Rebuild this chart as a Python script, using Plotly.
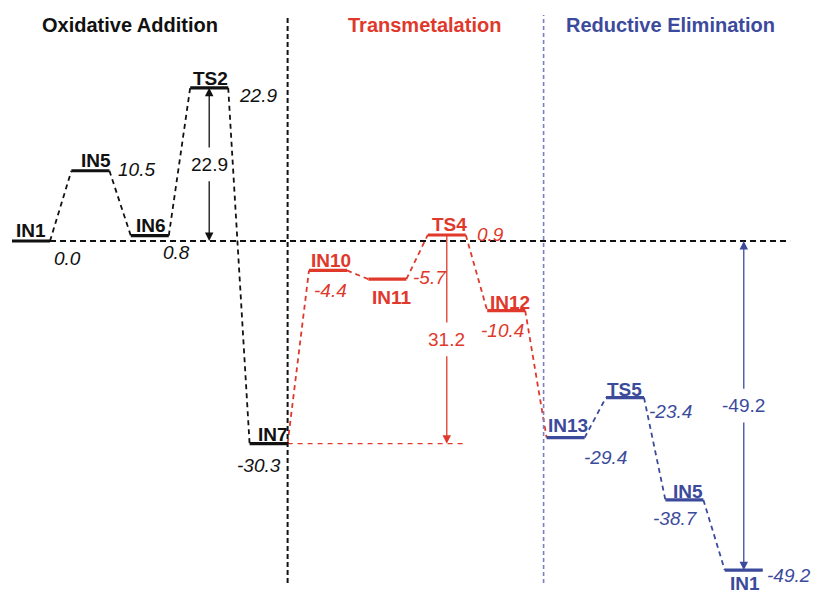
import plotly.graph_objects as go

# ---------------- data ----------------
species = ["IN1", "IN5", "IN6", "TS2", "IN7", "IN10", "IN11", "TS4", "IN12",
           "IN13", "TS5", "IN5", "IN1"]
energies = [0.0, 10.5, 0.8, 22.9, -30.3, -4.4, -5.7, 0.9, -10.4,
            -29.4, -23.4, -38.7, -49.2]
stage_of = [0, 0, 0, 0, 0, 1, 1, 1, 1, 2, 2, 2, 2]
stages = ["Oxidative Addition", "Transmetalation", "Reductive Elimination"]
# energy-span arrows: (from species index, to species index)
spans = [(0, 3), (4, 7), (0, 12)]

# ---------------- styles ----------------
BLACK, RED, BLUE = "#111111", "#e0392b", "#3c4a9c"
stage_colors = [BLACK, RED, BLUE]
conn_colors = [BLACK] * 4 + [RED] * 5 + [BLUE] * 3
HALF = 0.32
FONT = "Liberation Sans, Arial, sans-serif"
FS = 19
# pixel offsets (dx, dy-down) for name and value labels
name_off = [(0, -11), (6, -10), (1, -10), (1, -9), (4, -9), (3, -10), (5, 18),
            (3, -10), (4, -8), (2, -12), (0, -8), (4, -8), (1, 13)]
val_off = [(36, 17), (46, -1), (27, 17), (49, 8), (-10, 22), (2, 20), (43, -2),
           (44, 0), (-4, 20), (40, 20), (46, 14), (-9, 19), (45, 5)]
span_heads = ["both", "from", "both"]
span_colors = [BLACK, RED, BLUE]
GAP = 2.3  # half gap (energy units) left around the span label

n = len(species)
xs = list(range(n))

fig = go.Figure()

# connectors
for col in [BLACK, RED, BLUE]:
    cx, cy = [], []
    for i in range(n - 1):
        if conn_colors[i] == col:
            cx += [xs[i] + HALF, xs[i + 1] - HALF, None]
            cy += [energies[i], energies[i + 1], None]
    fig.add_trace(go.Scatter(x=cx, y=cy, mode="lines", hoverinfo="skip",
                             line=dict(color=col, width=1.8, dash="5px,4px")))

# zero reference line
fig.add_trace(go.Scatter(x=[xs[0] + HALF, xs[-1] + 0.78], y=[energies[0], energies[0]],
                         mode="lines", hoverinfo="skip",
                         line=dict(color=BLACK, width=1.8, dash="6px,4px")))
# IN7 reference line (red)
fig.add_trace(go.Scatter(x=[xs[4] + HALF, xs[7] + HALF], y=[energies[4], energies[4]],
                         mode="lines", hoverinfo="skip",
                         line=dict(color=RED, width=1.2, dash="5px,5px")))

# levels
for s, col in enumerate(stage_colors):
    bx, by = [], []
    for i in range(n):
        if stage_of[i] == s:
            bx += [xs[i] - HALF, xs[i] + HALF, None]
            by += [energies[i], energies[i], None]
    fig.add_trace(go.Scatter(x=bx, y=by, mode="lines", hoverinfo="skip",
                             line=dict(color=col, width=3.2)))

ann = []
# names and values
for i in range(n):
    col = stage_colors[stage_of[i]]
    ann.append(dict(x=xs[i], y=energies[i], text="<b>%s</b>" % species[i],
                    showarrow=False, xshift=name_off[i][0], yshift=-name_off[i][1],
                    font=dict(family=FONT, size=FS, color=col)))
    ann.append(dict(x=xs[i], y=energies[i], text="<i>%.1f</i>" % energies[i],
                    showarrow=False, xshift=val_off[i][0], yshift=-val_off[i][1],
                    font=dict(family=FONT, size=FS, color=col)))

# span arrows
for k, (a, b) in enumerate(spans):
    col = span_colors[k]
    xa = xs[b]
    ea, eb = energies[a], energies[b]
    mid = (ea + eb) / 2
    top, bot = max(ea, eb), min(ea, eb)
    heads = span_heads[k]
    up_head = 2 if heads == "both" else 0
    ann.append(dict(x=xa, y=top, ax=xa, ay=mid + GAP, axref="x", ayref="y",
                    xref="x", yref="y", text="", showarrow=True,
                    arrowhead=up_head, arrowsize=1.3, arrowwidth=1.3, arrowcolor=col))
    ann.append(dict(x=xa, y=bot, ax=xa, ay=mid - GAP, axref="x", ayref="y",
                    xref="x", yref="y", text="", showarrow=True,
                    arrowhead=2, arrowsize=1.3, arrowwidth=1.3, arrowcolor=col))
    ann.append(dict(x=xa, y=mid, text="%.1f" % (eb - ea), showarrow=False,
                    font=dict(family=FONT, size=FS, color=col)))

# stage titles
title_x = [1.67, 6.62, 10.76]
for s, t in enumerate(stages):
    ann.append(dict(x=title_x[s], y=0.958, yref="paper", yanchor="middle",
                    text="<b>%s</b>" % t, showarrow=False,
                    font=dict(family=FONT, size=20, color=stage_colors[s])))

# stage dividers
shapes = [
    dict(type="line", xref="x", yref="paper", x0=xs[4] + HALF, x1=xs[4] + HALF,
         y0=0.02, y1=0.975, line=dict(color=BLACK, width=2, dash="5px,3px")),
    dict(type="line", xref="x", yref="paper", x0=xs[9] - HALF - 0.05, x1=xs[9] - HALF - 0.05,
         y0=0.02, y1=0.975, line=dict(color="#7a7fc4", width=1.6, dash="4px,3px")),
]

fig.update_layout(
    width=815, height=595, margin=dict(l=0, r=0, t=0, b=0),
    paper_bgcolor="white", plot_bgcolor="white", showlegend=False,
    xaxis=dict(range=[-0.522, 13.199], visible=False),
    yaxis=dict(range=[-52.915, 36.024], visible=False),
    annotations=ann, shapes=shapes,
)
fig.write_html("out.html", config={"displayModeBar": False},
               post_script="document.body.style.margin='0px';document.body.style.overflow='hidden';")
